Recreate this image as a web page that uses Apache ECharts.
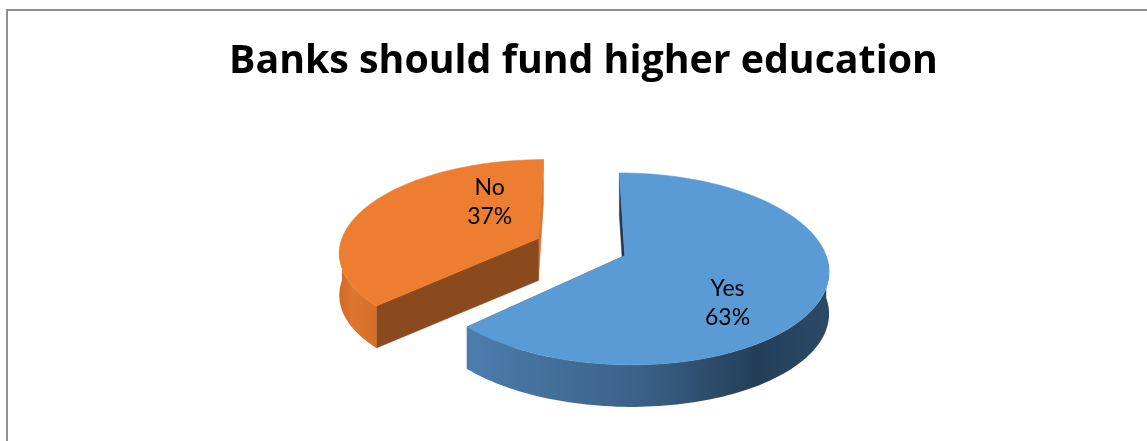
<!DOCTYPE html>
<html>
<head>
<meta charset="utf-8">
<script src="https://cdn.jsdelivr.net/npm/echarts@6/dist/echarts.min.js"></script>
<style>
  html, body { margin: 0; padding: 0; background: #ffffff; }
  #chart { width: 1147px; height: 441px; }
</style>
</head>
<body>
<div id="chart"></div>
<script>
// Survey answers
const categories = ['Yes', 'No'];
const values = [63, 37];
const titleText = 'Banks should fund higher education';

// Look of each slice: top face, outer wall gradient (left to right), the two cut faces
const sliceStyles = [
  {
    top: '#5B9BD5',
    wall: [[0, '#4B7DAD'], [0.5, '#3A5F86'], [0.8, '#243E57'], [1, '#2B4A67']],
    startFace: '#1F3850',
    endFace: '#2E5277',
    labelTurn: 22, labelR: 0.66
  },
  {
    top: '#ED7D31',
    wall: [[0, '#CF6A27'], [0.35, '#DE7630'], [1, '#D36E2A']],
    startFace: '#8A4A1E',
    endFace: '#D8742E',
    labelTurn: 34, labelR: 0.51
  }
];

// Perspective view of the tilted pie (unit-radius disc in world space)
const view = {
  cx: 581, cy: 247,      // screen position of the disc centre
  rx: 199, ry: 91.8,     // horizontal / depth scale
  persp: 0.1356,         // perspective strength
  depth: 42,             // thickness of the pie in pixels
  explode: 0.236         // slice pull-out, in radius units
};

const total = values.reduce((s, v) => s + v, 0);
const startAngles = [];
values.reduce((acc, v, i) => { startAngles[i] = acc; return acc + v / total * 360; }, 0);

const rad = d => d * Math.PI / 180;

function project(X, Z, drop) {
  const w = 1 + view.persp * Z;
  return [view.cx + view.rx * X / w, view.cy - view.ry * Z / w + (drop || 0)];
}

function renderSlice(params, api) {
  const i = params.dataIndex;
  const v = api.value(0);
  const a0 = startAngles[i];
  const a1 = a0 + v / total * 360;
  const mid = (a0 + a1) / 2;
  const st = sliceStyles[i];
  const ox = view.explode * Math.sin(rad(mid));
  const oz = view.explode * Math.cos(rad(mid));
  const pt = (ang, r, drop) => project(ox + r * Math.sin(rad(ang)), oz + r * Math.cos(rad(ang)), drop);
  const D = view.depth;

  const arc = (from, to, drop) => {
    const n = Math.max(2, Math.ceil(Math.abs(to - from) / 1.5));
    const out = [];
    for (let k = 0; k <= n; k++) out.push(pt(from + (to - from) * k / n, 1, drop));
    return out;
  };

  const face = (ang, color) => ({
    type: 'polygon',
    shape: { points: [pt(ang, 0, 0), pt(ang, 1, 0), pt(ang, 1, D), pt(ang, 0, D)] },
    style: { fill: color, stroke: color, lineWidth: 0.5 }
  });

  const children = [face(a1, st.endFace), face(a0, st.startFace)];

  // the part of the outer wall that faces the viewer
  const w0 = Math.max(a0, 90), w1 = Math.min(a1, 270);
  if (w1 > w0) {
    const topArc = arc(w0, w1, 0);
    const botArc = arc(w0, w1, D).reverse();
    children.push({
      type: 'polygon',
      shape: { points: topArc.concat(botArc) },
      style: {
        fill: new echarts.graphic.LinearGradient(0, 0, 1, 0,
          st.wall.map(s => ({ offset: s[0], color: s[1] }))),
        stroke: 'none'
      }
    });
  }

  children.push({
    type: 'polygon',
    shape: { points: [pt(a0, 0, 0)].concat(arc(a0, a1, 0)) },
    style: { fill: st.top, stroke: st.top, lineWidth: 0.5 }
  });

  const lp = pt(mid + st.labelTurn, st.labelR, 0);
  children.push({
    type: 'text',
    x: lp[0], y: lp[1],
    style: {
      text: categories[i] + '\n' + Math.round(v / total * 100) + '%',
      fill: '#000000',
      font: '23px Lato',
      lineHeight: 29,
      align: 'center',
      verticalAlign: 'middle'
    }
  });

  return { type: 'group', children: children };
}

const chart = echarts.init(document.getElementById('chart'), null, { renderer: 'canvas' });
chart.setOption({
  backgroundColor: '#ffffff',
  animation: false,
  title: {
    text: titleText,
    left: 224,
    top: 37,
    textStyle: { fontFamily: 'Open Sans', fontWeight: 'bold', fontSize: 39.3, color: '#000000' }
  },
  graphic: [{
    type: 'polyline',
    shape: { points: [[7, 441], [7, 10], [1147, 10]] },
    style: { stroke: '#8f8f8f', lineWidth: 2, fill: 'none' }
  }],
  series: [{
    type: 'custom',
    coordinateSystem: 'none',
    data: values.map(v => [v]),
    renderItem: renderSlice
  }]
});
</script>
</body>
</html>
